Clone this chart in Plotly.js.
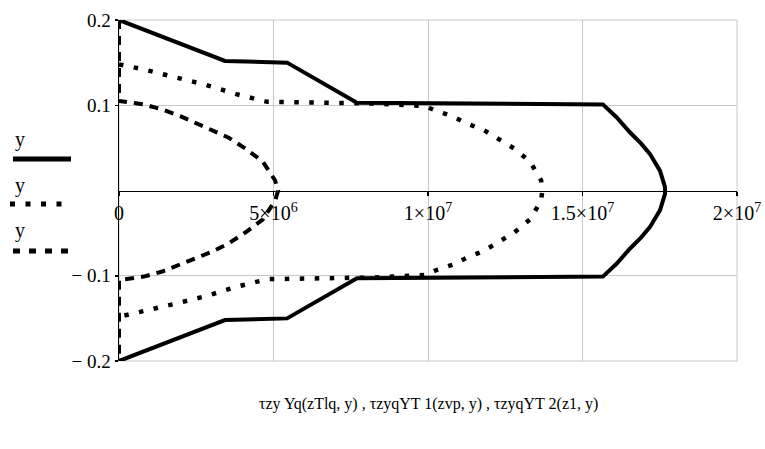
<!DOCTYPE html>
<html>
<head>
<meta charset="utf-8">
<script src="https://cdn.plot.ly/plotly-3.0.1.min.js"></script>
<style>html,body{margin:0;padding:0;background:#fff;}#chart{width:765px;height:449px;}</style>
</head>
<body>
<div id="chart"></div>
<script>
// Series 1 (solid): tzyYq(zTlq, y)
const solidX = [0, 3.43e6, 5.44e6, 7.70e6, 15.66e6, 16.1e6, 16.54e6, 16.9e6, 17.18e6, 17.51e6, 17.67e6, 17.68e6, 17.67e6, 17.51e6, 17.18e6, 16.9e6, 16.54e6, 16.1e6, 15.66e6, 7.70e6, 5.44e6, 3.43e6, 0];
const solidY = [0.2, 0.152, 0.150, 0.103, 0.101, 0.086, 0.068, 0.055, 0.043, 0.023, 0.004, 0, -0.004, -0.023, -0.043, -0.055, -0.068, -0.086, -0.101, -0.103, -0.150, -0.152, -0.2];

// Series 2 (dotted): tzyqYT1(zvp, y)
const dotX = [0, 0.8e6, 1.8e6, 2.8e6, 3.8e6, 4.8e6, 6.5e6, 8.3e6, 9.9e6, 10.3e6, 10.8e6, 11.3e6, 11.8e6, 12.3e6, 12.8e6, 13.3e6, 13.66e6, 13.7e6, 13.66e6, 13.3e6, 12.8e6, 12.3e6, 11.8e6, 11.3e6, 10.8e6, 10.3e6, 9.9e6, 8.3e6, 6.5e6, 4.8e6, 3.8e6, 2.8e6, 1.8e6, 0.8e6, 0];
const dotY = [0.148, 0.142, 0.133, 0.124, 0.113, 0.104, 0.103, 0.102, 0.099, 0.093, 0.087, 0.078, 0.071, 0.060, 0.049, 0.034, 0.012, 0, -0.012, -0.034, -0.049, -0.060, -0.071, -0.078, -0.087, -0.093, -0.099, -0.102, -0.103, -0.104, -0.113, -0.124, -0.133, -0.142, -0.148];

// Series 3 (dashed): tzyqYT2(z1, y)
const dashX = [0, 0, 0.8e6, 1.4e6, 2.0e6, 2.5e6, 3.0e6, 3.55e6, 4.1e6, 4.65e6, 5.05e6, 5.15e6, 5.05e6, 4.65e6, 4.1e6, 3.55e6, 3.0e6, 2.5e6, 2.0e6, 1.4e6, 0.8e6, 0, 0];
const dashY = [0.2, 0.105, 0.101, 0.095, 0.087, 0.079, 0.072, 0.062, 0.049, 0.034, 0.012, 0, -0.012, -0.034, -0.049, -0.062, -0.072, -0.079, -0.087, -0.095, -0.101, -0.105, -0.2];

const xTickVals = [0, 5e6, 1e7, 1.5e7, 2e7];
const xTickText = ['0', '5×10<sup>6</sup>', '1×10<sup>7</sup>', '1.5×10<sup>7</sup>', '2×10<sup>7</sup>'];
const yTickVals = [-0.2, -0.1, 0.1, 0.2];
const yTickText = ['− 0.2', '− 0.1', '0.1', '0.2'];
const legendLabels = ['y', 'y', 'y'];
const xTitle = 'τzy Yq(zTlq, y) , τzyqYT 1(zvp, y) , τzyqYT 2(z1, y)';

const FONT = 'Liberation Serif';

const traces = [
  {x: dashX, y: dashY, mode: 'lines', line: {color: '#000', width: 4, dash: '9px,7px'}, hoverinfo: 'skip'},
  {x: dotX, y: dotY, mode: 'lines', line: {color: '#000', width: 4.5, dash: '4.5px,10.5px'}, hoverinfo: 'skip'},
  {x: solidX, y: solidY, mode: 'lines', line: {color: '#000', width: 4}, hoverinfo: 'skip'}
];

const px = v => (v - 119) / 618;
const py = v => (361 - v) / 341;

const layout = {
  width: 765, height: 449,
  margin: {l: 119, r: 28, t: 20, b: 88},
  paper_bgcolor: '#fff', plot_bgcolor: '#fff',
  showlegend: false,
  font: {family: FONT, color: '#000', size: 16},
  xaxis: {
    range: [0, 2e7], tickvals: xTickVals, ticktext: xTickText,
    showgrid: true, gridcolor: '#c8c8c8', gridwidth: 1,
    zeroline: false, showline: true, linecolor: '#000', linewidth: 1.5,
    anchor: 'free', position: 0.5,
    ticks: 'outside', ticklen: 4, tickcolor: '#000', tickwidth: 1.5,
    tickfont: {family: FONT, size: 20, color: '#000'}
  },
  yaxis: {
    range: [-0.2, 0.2], tickvals: yTickVals, ticktext: yTickText,
    showgrid: true, gridcolor: '#c8c8c8', gridwidth: 1,
    zeroline: false, showline: true, linecolor: '#000', linewidth: 1.5,
    ticks: 'outside', ticklen: 3, tickcolor: '#000', tickwidth: 1.5,
    tickfont: {family: FONT, size: 19, color: '#000'}
  },
  annotations: [
    {text: xTitle, xref: 'paper', yref: 'paper', x: 0.5, y: py(404), xanchor: 'center', yanchor: 'middle', showarrow: false, font: {family: FONT, size: 16, color: '#000'}},
    {text: legendLabels[0], xref: 'paper', yref: 'paper', x: px(20), y: py(139), xanchor: 'center', yanchor: 'middle', showarrow: false, font: {family: FONT, size: 20, color: '#000'}},
    {text: legendLabels[1], xref: 'paper', yref: 'paper', x: px(20), y: py(185), xanchor: 'center', yanchor: 'middle', showarrow: false, font: {family: FONT, size: 20, color: '#000'}},
    {text: legendLabels[2], xref: 'paper', yref: 'paper', x: px(20), y: py(230), xanchor: 'center', yanchor: 'middle', showarrow: false, font: {family: FONT, size: 20, color: '#000'}}
  ],
  shapes: [
    {type: 'rect', xref: 'paper', yref: 'paper', x0: 0, x1: 1, y0: 0, y1: 1, layer: 'below', line: {color: '#c8c8c8', width: 1}},
    {type: 'line', xref: 'paper', yref: 'paper', x0: px(13), x1: px(71), y0: py(159), y1: py(159), line: {color: '#000', width: 5}},
    {type: 'line', xref: 'paper', yref: 'paper', x0: px(10), x1: px(64), y0: py(204), y1: py(204), line: {color: '#000', width: 5, dash: '5px,10.5px'}},
    {type: 'line', xref: 'paper', yref: 'paper', x0: px(13), x1: px(71), y0: py(251), y1: py(251), line: {color: '#000', width: 5, dash: '7px,9px'}}
  ]
};

Plotly.newPlot('chart', traces, layout, {staticPlot: true, displayModeBar: false});
</script>
</body>
</html>
